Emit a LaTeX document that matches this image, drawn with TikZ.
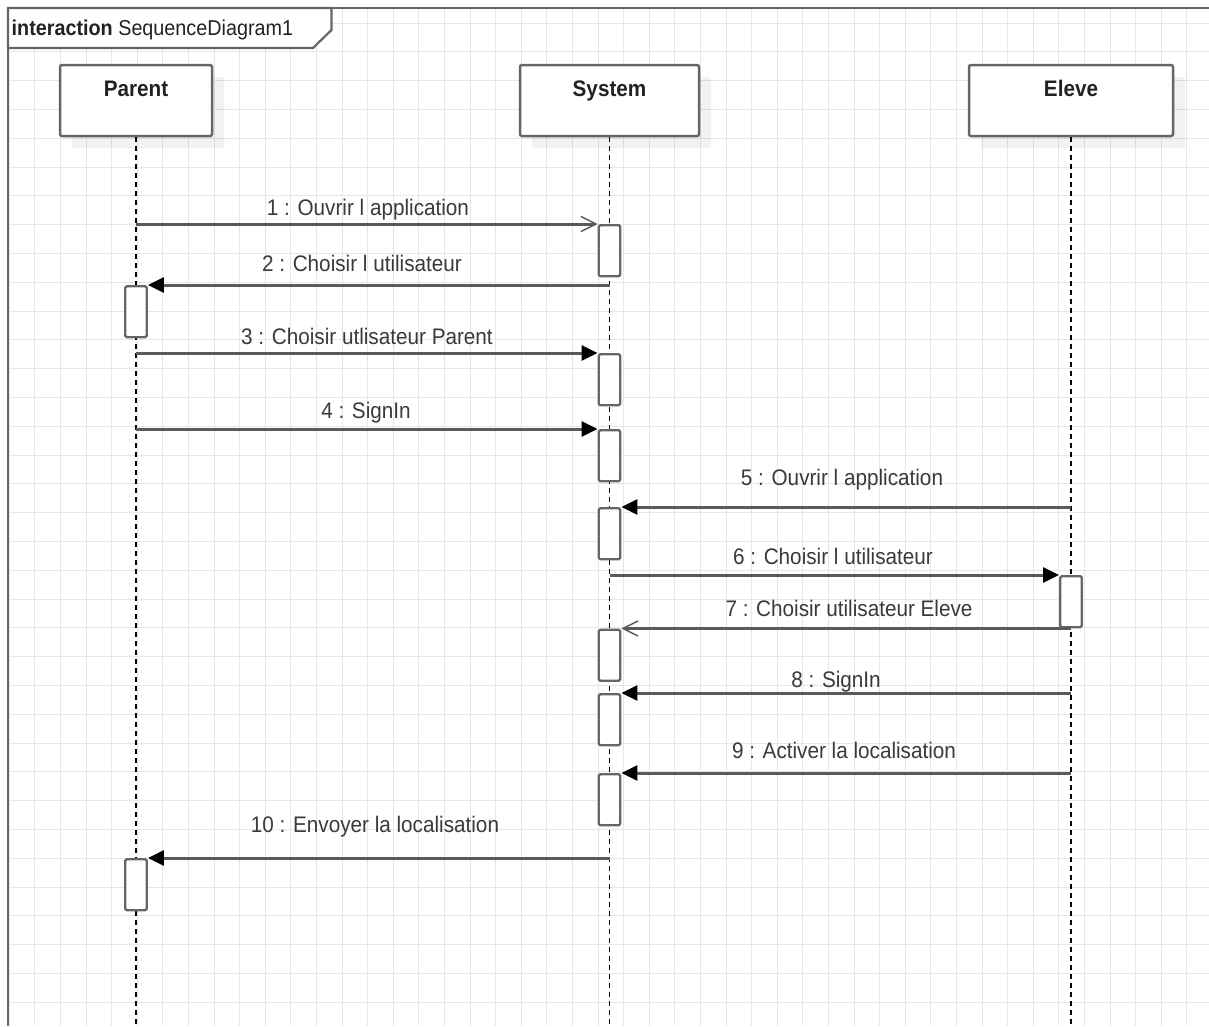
\documentclass[tikz,border=0pt]{standalone}
\usepackage{fontspec}
\setmainfont{Liberation Sans}
\newfontfamily\narrowfont[FakeStretch=0.92]{Liberation Sans}
\usetikzlibrary{arrows.meta,shadows}
\definecolor{gridc}{HTML}{E6E6E6}
\definecolor{edgec}{HTML}{666666}
\definecolor{msgc}{HTML}{5A5A5A}
\definecolor{txtc}{HTML}{3A3A3A}
\definecolor{titc}{HTML}{222222}
\begin{document}
\begin{tikzpicture}[x=1pt,y=-1pt,
  gridline/.style={draw=gridc, line width=1.1pt},
  framec/.style={draw=edgec, line width=2.2pt},
  objbox/.style={draw=edgec, line width=2.5pt, fill=white, rounded corners=2pt,
    minimum height=71pt, inner sep=0pt, text height=11pt, text depth=20pt,
    font=\narrowfont\fontsize{22.5}{26}\selectfont\bfseries, text=titc,
    drop shadow={shadow xshift=12pt, shadow yshift=-12pt, fill=black, opacity=0.05}},
  lifeline/.style={draw=black, line width=1.6pt, dash pattern=on 5pt off 4pt},
  act/.style={draw=edgec, line width=2.4pt, fill=white, rounded corners=1.5pt,
    minimum width=21.5pt, minimum height=51pt, inner sep=0pt, anchor=north},
  msg/.style={draw=msgc, line width=3pt},
  filledtip/.style={-{Triangle[length=16pt,width=15pt,color=black]}},
  opentip/.style={-{Straight Barb[length=15pt,width=15pt,line width=1.4pt]}},
  lbl/.style={anchor=base, inner sep=0pt, text=txtc, font=\narrowfont\fontsize{22.5}{26}\selectfont}
]
\useasboundingbox (0,0) rectangle (1209,1026);
\fill[white] (0,0) rectangle (1209,1026);

% grid
\begin{scope}
  \clip (8,8) rectangle (1209,1026);
  \foreach \i in {0,...,46} \draw[gridline] ({9.3+25.6*\i},8) -- ({9.3+25.6*\i},1026);
  \foreach \j in {0,...,34} \draw[gridline] (8,{23.1+28.8*\j}) -- (1209,{23.1+28.8*\j});
\end{scope}

% frame
\draw[framec] (8,1026) -- (8,8) -- (1209,8);
\draw[framec, fill=white] (8,8) -- (331.5,8) -- (331.5,30) -- (313,48) -- (8,48) -- cycle;
\node[anchor=base west, inner sep=0pt, text=titc, font=\narrowfont\fontsize{21.5}{25}\selectfont]
  (framelabel) at (11.5,35) {\textbf{interaction} SequenceDiagram1};

% objects
\node[objbox, minimum width=152pt] (parent) at (136,100.5) {Parent};
\node[objbox, minimum width=179pt] (system) at (609.5,100.5) {System};
\node[objbox, minimum width=204pt] (eleve) at (1071,100.5) {Eleve};

\coordinate (bot) at (0,1026);
\draw[lifeline] (parent.south) -- (parent.south |- bot);
\draw[lifeline] (system.south) -- (system.south |- bot);
\draw[lifeline] (eleve.south) -- (eleve.south |- bot);

% activations
\node[act] (a1) at (609.5,224) {};
\node[act] (p1) at (136,285) {};
\node[act] (a2) at (609.5,353) {};
\node[act] (a3) at (609.5,429) {};
\node[act] (a4) at (609.5,507) {};
\node[act] (e1) at (1071,575) {};
\node[act] (a5) at (609.5,628.5) {};
\node[act] (a6) at (609.5,693) {};
\node[act] (a7) at (609.5,773) {};
\node[act] (p2) at (136,858) {};

% messages
\draw[msg, opentip] (parent |- a1.north) -- (a1.north west);
\draw[msg, filledtip] (system |- p1.north) -- (p1.north east);
\draw[msg, filledtip] (parent |- a2.north) -- (a2.north west);
\draw[msg, filledtip] (parent |- a3.north) -- (a3.north west);
\draw[msg, filledtip] (eleve |- a4.north) -- (a4.north east);
\draw[msg, filledtip] (system |- e1.north) -- (e1.north west);
\draw[msg, opentip] (eleve |- a5.north) -- (a5.north east);
\draw[msg, filledtip] (eleve |- a6.north) -- (a6.north east);
\draw[msg, filledtip] (eleve |- a7.north) -- (a7.north east);
\draw[msg, filledtip] (system |- p2.north) -- (p2.north east);

% labels
\node[lbl] (l1) at (368,215) {1 : Ouvrir l application};
\node[lbl] (l2) at (362,271) {2 : Choisir l utilisateur};
\node[lbl] (l3) at (367,344) {3 : Choisir utlisateur Parent};
\node[lbl] (l4) at (366,418) {4 : SignIn};
\node[lbl] (l5) at (842,485) {5 : Ouvrir l application};
\node[lbl] (l6) at (833,564) {6 : Choisir l utilisateur};
\node[lbl] (l7) at (849,616) {7 : Choisir utilisateur Eleve};
\node[lbl] (l8) at (836,687) {8 : SignIn};
\node[lbl] (l9) at (844,758) {9 : Activer la localisation};
\node[lbl] (l10) at (375,832) {10 : Envoyer la localisation};
\end{tikzpicture}
\end{document}
